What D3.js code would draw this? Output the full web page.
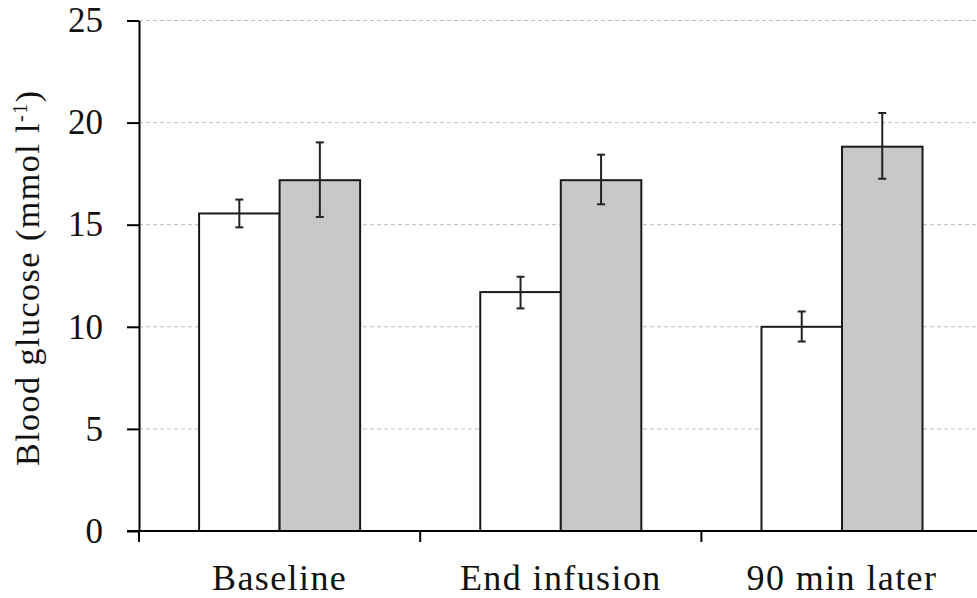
<!DOCTYPE html>
<html>
<head>
<meta charset="utf-8">
<script src="https://cdn.jsdelivr.net/npm/d3@7"></script>
<style>
  body { margin: 0; background: #fff; }
  svg { display: block; }
  text { font-family: "Liberation Serif", "Times New Roman", serif; fill: #111; }
</style>
</head>
<body>
<script>
var width = 977,
    height = 598;

// data
var categories = ["Baseline", "End infusion", "90 min later"],
    series = ["white", "grey"],
    whiteMean = [15.55, 11.7, 10.0],
    whiteLow  = [14.87, 10.9, 9.28],
    whiteHigh = [16.23, 12.45, 10.75],
    greyMean  = [17.18, 17.18, 18.82],
    greyLow   = [15.38, 16.0, 17.25],
    greyHigh  = [19.03, 18.43, 20.47],
    yTicks = [0, 5, 10, 15, 20, 25];

var rows = categories.map(function(c, i) {
  return [
    {cat: c, s: "white", v: whiteMean[i], lo: whiteLow[i], hi: whiteHigh[i]},
    {cat: c, s: "grey", v: greyMean[i], lo: greyLow[i], hi: greyHigh[i]}
  ];
});

var plotLeft = 139, plotBottom = 531, plotTop = 20.5;

var x0 = d3.scaleBand()
    .domain(categories)
    .range([plotLeft, plotLeft + 281.2 * 3]);

var x1 = d3.scaleBand()
    .domain(series)
    .range([0, x0.bandwidth()])
    .paddingOuter(0.746);

var y = d3.scaleLinear()
    .domain([0, 25])
    .range([plotBottom, plotTop]);

var colour = {white: "#ffffff", grey: "#c8c8c8"};

var svg = d3.select("body").append("svg")
    .attr("width", width)
    .attr("height", height);

// dashed gridlines
svg.append("g").selectAll("line")
  .data(yTicks.filter(function(d) { return d > 0; }))
  .enter().append("line")
    .attr("x1", plotLeft).attr("x2", width)
    .attr("y1", function(d) { return y(d); })
    .attr("y2", function(d) { return y(d); })
    .attr("stroke", "#bdbdbd")
    .attr("stroke-width", 1)
    .attr("stroke-dasharray", "4,3");

// bars
var groups = svg.append("g").selectAll("g")
  .data(rows)
  .enter().append("g")
    .attr("transform", function(d) { return "translate(" + x0(d[0].cat) + ",0)"; });

groups.selectAll("rect")
  .data(function(d) { return d; })
  .enter().append("rect")
    .attr("x", function(d) { return x1(d.s); })
    .attr("width", x1.bandwidth())
    .attr("y", function(d) { return y(d.v); })
    .attr("height", function(d) { return y(0) - y(d.v); })
    .attr("fill", function(d) { return colour[d.s]; })
    .attr("stroke", "#1a1a1a")
    .attr("stroke-width", 2);

// error bars
var err = groups.selectAll("g.err")
  .data(function(d) { return d; })
  .enter().append("g")
    .attr("class", "err")
    .attr("stroke", "#222")
    .attr("stroke-width", 2);

err.append("line")
    .attr("x1", function(d) { return x1(d.s) + x1.bandwidth() / 2; })
    .attr("x2", function(d) { return x1(d.s) + x1.bandwidth() / 2; })
    .attr("y1", function(d) { return y(d.lo); })
    .attr("y2", function(d) { return y(d.hi); });

["lo", "hi"].forEach(function(k) {
  err.append("line")
      .attr("x1", function(d) { return x1(d.s) + x1.bandwidth() / 2 - 4; })
      .attr("x2", function(d) { return x1(d.s) + x1.bandwidth() / 2 + 4; })
      .attr("y1", function(d) { return y(d[k]); })
      .attr("y2", function(d) { return y(d[k]); });
});

// y axis
var yAxis = svg.append("g")
    .attr("transform", "translate(" + plotLeft + ",0)")
    .call(d3.axisLeft(y).tickValues(yTicks).tickSize(12).tickSizeOuter(0).tickPadding(24));

yAxis.select(".domain").attr("stroke", "#000").attr("stroke-width", 2);
yAxis.selectAll(".tick line").attr("stroke", "#000").attr("stroke-width", 2);
yAxis.selectAll(".tick text")
    .attr("font-family", "Liberation Serif, serif")
    .attr("font-size", 35)
    .attr("fill", "#111");

// x axis
svg.append("line")
    .attr("x1", plotLeft - 12).attr("x2", width)
    .attr("y1", y(0)).attr("y2", y(0))
    .attr("stroke", "#000").attr("stroke-width", 2);

svg.append("g").selectAll("line")
  .data(categories)
  .enter().append("line")
    .attr("x1", function(d) { return x0(d); })
    .attr("x2", function(d) { return x0(d); })
    .attr("y1", y(0)).attr("y2", y(0) + 11)
    .attr("stroke", "#000").attr("stroke-width", 2);

svg.append("g").selectAll("text")
  .data(categories)
  .enter().append("text")
    .attr("x", function(d) { return x0(d) + x0.bandwidth() / 2; })
    .attr("y", 590)
    .attr("text-anchor", "middle")
    .attr("font-size", 36)
    .attr("letter-spacing", 1.4)
    .text(function(d) { return d; });

// y title
var title = svg.append("text")
    .attr("transform", "translate(39," + ((y(0) + y(25)) / 2 + 2) + ")rotate(-90)")
    .attr("text-anchor", "middle")
    .attr("font-size", 34)
    .attr("letter-spacing", 1.5);

title.append("tspan").text("Blood glucose (mmol l");
title.append("tspan").attr("font-size", 20).attr("dy", -12).text("-1");
title.append("tspan").attr("dy", 12).text(")");
</script>
</body>
</html>
